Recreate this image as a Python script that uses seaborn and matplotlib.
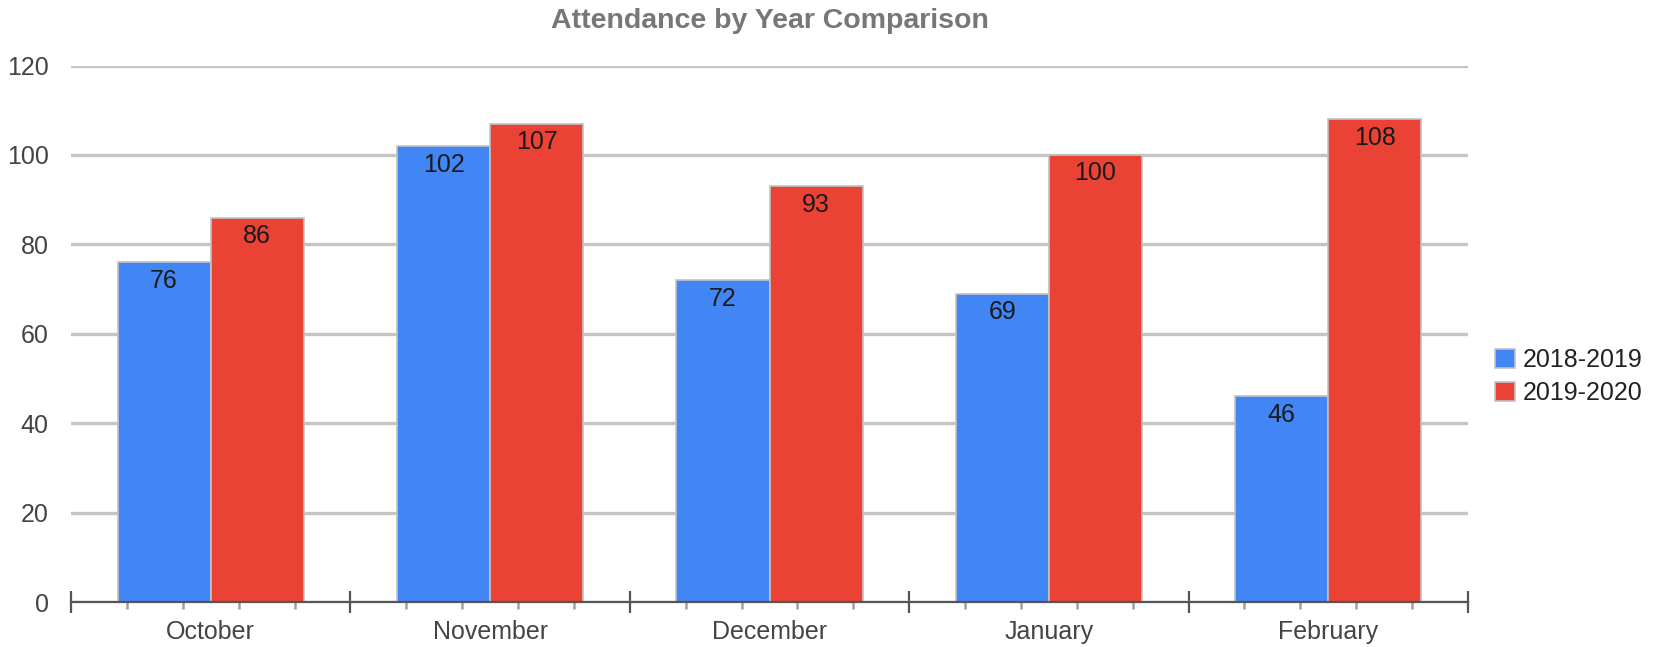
import numpy as np
import pandas as pd
import matplotlib
matplotlib.use("Agg")
import matplotlib.pyplot as plt
import seaborn as sns

# datos
meses = ["October", "November", "December", "January", "February"]
temporadas = ["2018-2019", "2019-2020"]
asistencia_1819 = [76, 102, 72, 69, 46]
asistencia_1920 = [86, 107, 93, 100, 108]
colores = ["#4285F4", "#EA4335"]

df = pd.DataFrame({
    "mes": meses * 2,
    "temporada": [temporadas[0]] * len(meses) + [temporadas[1]] * len(meses),
    "asistencia": asistencia_1819 + asistencia_1920,
})

sns.set_theme(style="white")
plt.rcParams["font.family"] = ["Liberation Sans", "DejaVu Sans"]

fig = plt.figure(figsize=(16.57, 6.47), dpi=100)
ax = fig.add_axes([71 / 1657, 1 - 602 / 647, (1468 - 71) / 1657, (602 - 65.5) / 647])

sns.barplot(data=df, x="mes", y="asistencia", hue="temporada", order=meses,
            hue_order=temporadas, palette=colores, width=0.667, gap=0,
            edgecolor="#c2c2c2", linewidth=1.2, saturation=1, ax=ax)

for cont in ax.containers:
    ax.bar_label(cont, padding=-22, fontsize=18, color="#1a1a1a")

# grilla horizontal
ax.set_ylim(0, 120)
ax.set_xlim(-0.5, len(meses) - 0.5)
ax.set_yticks(np.arange(0, 121, 20))
ax.set_axisbelow(True)
ax.grid(axis="y", color="#c4c4c4", linewidth=2.4)
ax.grid(axis="x", visible=False)
for s in ["top", "right", "left"]:
    ax.spines[s].set_visible(False)
ax.spines["bottom"].set_color("#555555")
ax.spines["bottom"].set_linewidth(1.6)

ax.tick_params(axis="y", length=0, pad=16, labelsize=18, labelcolor="#444444")
ax.tick_params(axis="x", which="major", bottom=True, length=0, pad=13, labelsize=18, labelcolor="#444444")
menores = [b for b in np.arange(-0.5, len(meses) - 0.5, 0.2) if abs((b + 0.5) % 1) > 0.01 and abs((b + 0.5) % 1 - 1) > 0.01]
ax.set_xticks(menores, minor=True)
ax.tick_params(axis="x", which="minor", bottom=True, length=5, width=1.8, color="#a0a0a0", direction="out")

# separadores de categorias
sec = ax.secondary_xaxis("bottom")
sec.set_xticks(np.arange(-0.5, len(meses), 1.0))
sec.set_xticklabels([])
sec.tick_params(bottom=True, length=16, width=1.6, color="#555555", direction="inout")
sec.spines["bottom"].set_visible(False)

ax.set_xlabel("")
ax.set_ylabel("")

ax.legend(title=None, loc="center left", bbox_to_anchor=(1.012, 0.42), frameon=False,
          fontsize=18, handlelength=0.8, handleheight=0.8, handletextpad=0.3,
          labelspacing=0.35, borderaxespad=0, labelcolor="#222222")

fig.text((71 + 1468) / 2 / 1657, 1 - 21 / 647, "Attendance by Year Comparison",
         ha="center", va="center", fontsize=20.5, fontweight="bold", color="#777777")

fig.savefig("out.png", dpi=100)
